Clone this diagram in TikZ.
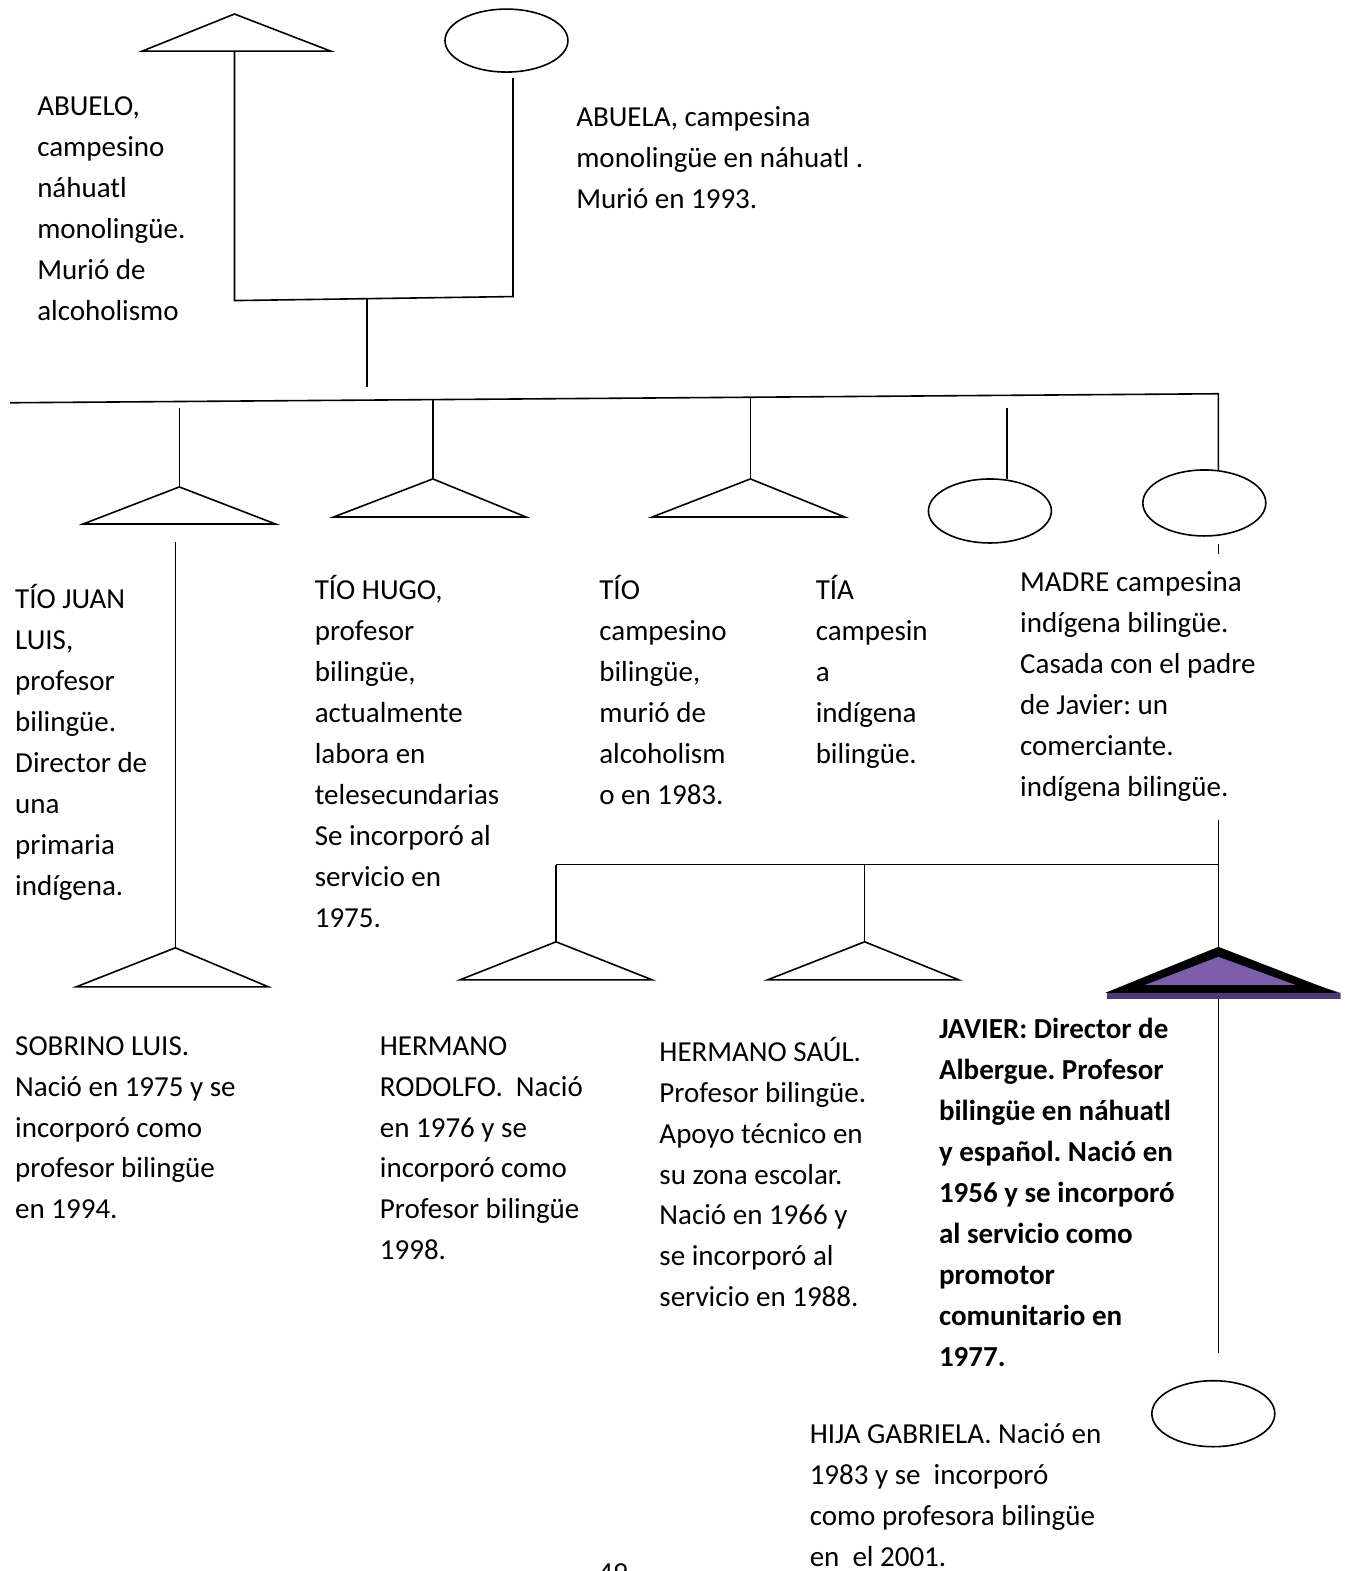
\documentclass[tikz,border=0pt]{standalone}
\usepackage{fontspec}
\setmainfont{Carlito}
\usetikzlibrary{shapes.geometric}
\definecolor{jpurple}{HTML}{7C5FA8}
\definecolor{jshadow}{HTML}{4E3A73}
\tikzset{
  ln/.style={line width=1.6pt, line cap=butt},
  thinln/.style={line width=0.6pt},
  tri/.style={line width=1.6pt, line join=miter},
  ell/.style={draw, ellipse, line width=1.6pt, minimum width=123pt, minimum height=64pt, inner sep=0pt},
  txt/.style={anchor=base west, inner sep=0pt, font=\fontsize{29}{41}\selectfont},
}
\frenchspacing
\newcommand{\blk}[1]{\parbox[t]{420pt}{\raggedright #1}}
\begin{document}
\begin{tikzpicture}[x=1.0022pt,y=-1.0022pt]
\useasboundingbox (0,0) rectangle (1342,1568);
% ---------- grandparents
\coordinate (gpa) at (234,14);
\coordinate (gpaL) at (142,51);
\coordinate (gpaR) at (330,51);
\coordinate (gpaB) at (234,51);
\draw[tri] (gpaL) -- (gpa) -- (gpaR) -- cycle;
\node[ell, minimum height=63pt] (gma) at (505.5,40.5) {};
\coordinate (gmaStem) at (512,78);
\coordinate (jA) at (234,300);
\coordinate (jB) at (512,296);
\draw[ln] (gpaB) -- (jA) -- (jB) -- (gmaStem);
\coordinate (dropTop) at (366,298);
\coordinate (dropBot) at (366,386);
\draw[ln] (dropTop) -- (dropBot);
% ---------- main sibling bar
\coordinate (barL) at (10,402);
\coordinate (barR) at (1216,393);
\coordinate (madreTop) at (1216,470);
\draw[ln] (barL) -- (barR) -- (madreTop);
% drops
\coordinate (jlTop) at (179,407);
\coordinate (jl) at (179,486);
\coordinate (hgTop) at (432,399);
\coordinate (hg) at (432,478);
\coordinate (toTop) at (749,397);
\coordinate (to) at (749,478);
\coordinate (taTop) at (1005,407);
\coordinate (taBot) at (1005,478);
\draw[ln] (jlTop) -- (jl);
\draw[ln] (hgTop) -- (hg);
\draw[ln] (toTop) -- (to);
\draw[ln] (taTop) -- (taBot);
% triangles
\draw[tri] (83,523) -- (jl) -- (275,523) -- cycle;
\draw[tri] (333,516) -- (hg) -- (525,516) -- cycle;
\draw[tri] (651,516) -- (to) -- (843,516) -- cycle;
\node[ell] (tia) at (988,510) {};
\node[ell, minimum height=66pt] (madre) at (1202,502) {};
\coordinate (tickA) at (1216,543);
\coordinate (tickB) at (1216,553);
\draw[thinln, line width=1pt] (tickA) -- (tickB);
% ---------- Juan Luis -> Sobrino
\coordinate (jlA) at (175,541);
\coordinate (jlB) at (175,567);
\coordinate (jlC) at (175,920);
\coordinate (sob) at (175,946);
\draw[ln] (jlA) -- (jlB);
\draw[thinln] (jlB) -- (jlC);
\draw[ln] (jlC) -- (sob);
\draw[tri] (76,985) -- (sob) -- (268,985) -- cycle;
% ---------- Madre -> children
\coordinate (mA) at (1216,818);
\coordinate (mB) at (1216,863);
\coordinate (jav) at (1216,945);
\coordinate (cL) at (555,863);
\coordinate (cM) at (863,863);
\coordinate (rod) at (555,940);
\coordinate (sau) at (863,940);
\draw[ln] (mA) -- (jav);
\draw[ln] (cL) -- (mB);
\draw[ln] (cL) -- (rod);
\draw[ln] (cM) -- (sau);
\draw[tri] (459,978) -- (rod) -- (651,978) -- cycle;
\draw[tri] (766,978) -- (sau) -- (957,978) -- cycle;
% Javier (highlighted)
\fill[jshadow] (1105,991) -- (1216,951) -- (1338,991) -- (1338,997) -- (1105,997) -- cycle;
\fill[black] (1103,991) -- (1216,945) -- (1335,991) -- cycle;
\fill[jpurple] (1143,983) -- (1216,955) -- (1293,983) -- cycle;
\coordinate (javB) at (1216,997);
\coordinate (javC) at (1216,1350);
\draw[ln] (javB) -- (javC);
\node[ell, minimum height=66pt] (gab) at (1211,1411) {};
% ---------- texts
\node[txt] (tAbuelo) at (37,115) {\blk{ABUELO,\\campesino\\náhuatl\\monolingüe.\\Murió de\\alcoholismo}};
\node[txt] (tAbuela) at (575,126) {\blk{ABUELA, campesina\\monolingüe en náhuatl .\\Murió en 1993.}};
\node[txt] (tJL) at (15,607) {\blk{TÍO JUAN\\LUIS,\\profesor\\bilingüe.\\Director de\\una\\primaria\\indígena.}};
\node[txt] (tHugo) at (314,598) {\blk{TÍO HUGO,\\profesor\\bilingüe,\\actualmente\\labora en\\telesecundarias\\Se incorporó al\\servicio en\\1975.}};
\node[txt] (tTio) at (598,598) {\blk{TÍO\\campesino\\bilingüe,\\murió de\\alcoholism\\o en 1983.}};
\node[txt] (tTia) at (814,598) {\blk{TÍA\\campesin\\a\\indígena\\bilingüe.}};
\node[txt] (tMadre) at (1018,590) {\blk{MADRE campesina\\indígena bilingüe.\\Casada con el padre\\de Javier: un\\comerciante.\\indígena bilingüe.}};
\node[txt] (tSob) at (15,1053) {\blk{SOBRINO LUIS.\\Nació en 1975 y se\\incorporó como\\profesor bilingüe\\en 1994.}};
\node[txt] (tRod) at (379,1053) {\blk{HERMANO\\RODOLFO.\ \ Nació\\en 1976 y se\\incorporó como\\Profesor bilingüe\\1998.}};
\node[txt] (tSau) at (658,1059) {\blk{HERMANO SAÚL.\\Profesor bilingüe.\\Apoyo técnico en\\su zona escolar.\\Nació en 1966 y\\se incorporó al\\servicio en 1988.}};
\node[txt, font=\fontsize{29}{41}\selectfont\bfseries] (tJav) at (937,1037) {\blk{JAVIER: Director de\\Albergue. Profesor\\bilingüe en náhuatl\\y español. Nació en\\1956 y se incorporó\\al servicio como\\promotor\\comunitario en\\1977.}};
\node[txt] (tGab) at (808,1441) {\blk{HIJA GABRIELA. Nació en\\1983 y se\ \ incorporó\\como profesora bilingüe\\en\ \ el 2001.}};
\node[txt] (tPage) at (597,1579) {49};
\end{tikzpicture}
\end{document}
